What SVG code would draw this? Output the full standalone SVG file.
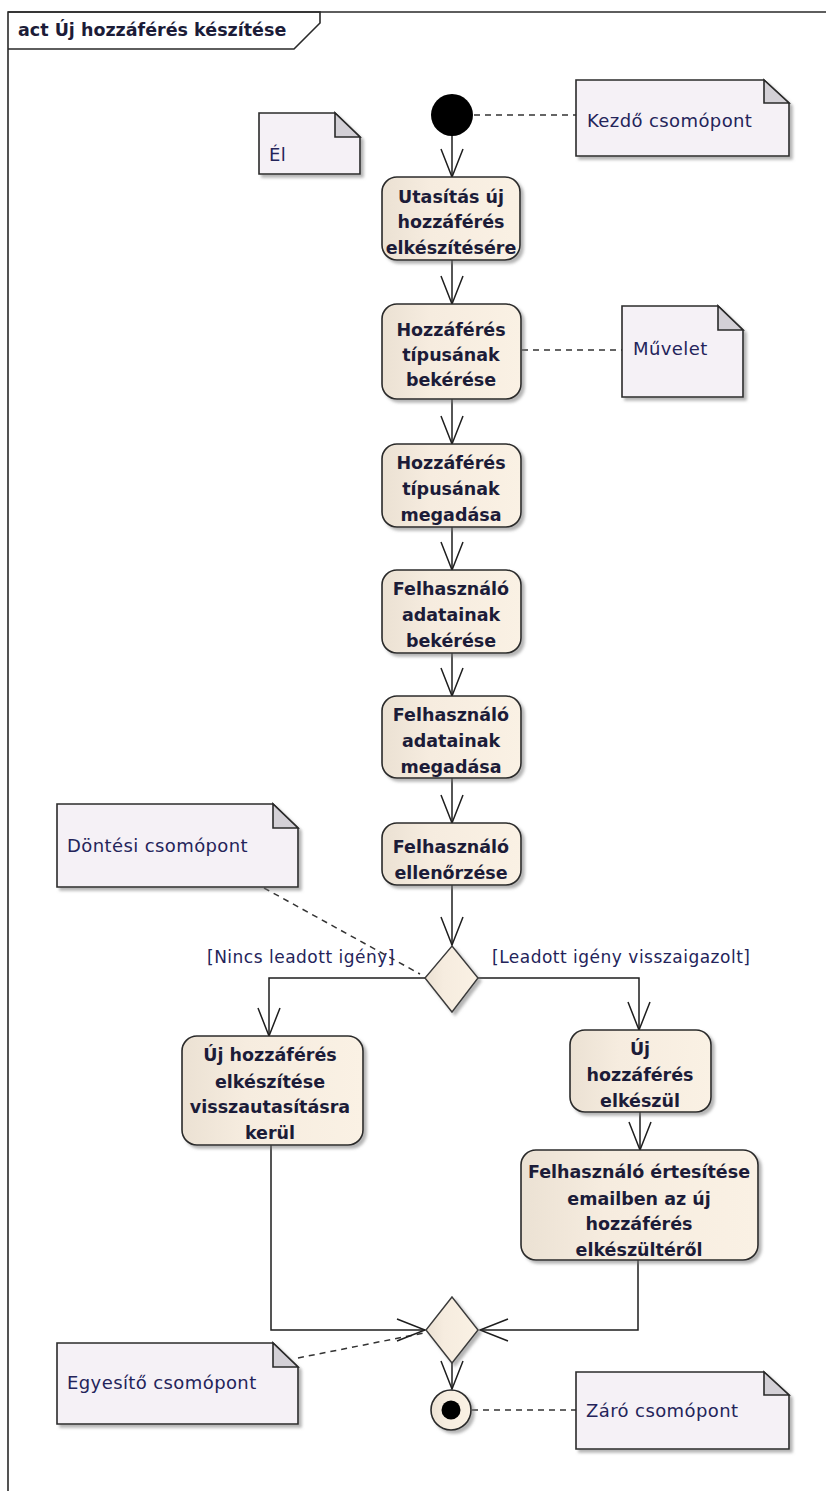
<svg xmlns="http://www.w3.org/2000/svg" width="826" height="1491" viewBox="0 0 826 1491">
<style>
.frame{fill:none;stroke:#2a2a2a;stroke-width:1.6}
.act{fill:url(#ng);stroke:#2a2a2a;stroke-width:1.6;filter:url(#sh)}
.dia{fill:url(#ng);stroke:#3a3a3a;stroke-width:1.4;filter:url(#sh)}
.note{fill:#f5f1f6;stroke:#2a2a2a;stroke-width:1.6;filter:url(#sh)}
.fold{fill:#d3d0d6;stroke:#2a2a2a;stroke-width:1.6}
.flow{fill:none;stroke:#1e1e1e;stroke-width:1.5;marker-end:url(#arr)}
.dash{fill:none;stroke:#333;stroke-width:1.5;stroke-dasharray:6 5}
.nt{font-family:"DejaVu Sans",Verdana,sans-serif;font-weight:bold;font-size:17.5px;fill:#1c1c38;text-anchor:middle}
.tt{font-family:"DejaVu Sans",Verdana,sans-serif;font-weight:bold;font-size:17.5px;fill:#1c1c38}
.lt{font-family:"DejaVu Sans",Verdana,sans-serif;font-size:18px;letter-spacing:0.4px;fill:#24245a}
.gt{font-family:"DejaVu Sans",Verdana,sans-serif;font-size:17px;letter-spacing:0.5px;fill:#24245a}
</style>
<defs>
<linearGradient id="ng" x1="0" y1="0" x2="1" y2="0">
<stop offset="0" stop-color="#ebe1d3"/>
<stop offset="0.35" stop-color="#f6ecdf"/>
<stop offset="1" stop-color="#faf1e4"/>
</linearGradient>
<filter id="sh" x="-10%" y="-10%" width="130%" height="130%">
<feDropShadow dx="3" dy="3" stdDeviation="1.5" flood-color="#777" flood-opacity="0.55"/>
</filter>
<marker id="arr" viewBox="-30 -13 32 26" refX="0" refY="0" markerWidth="32" markerHeight="26" markerUnits="userSpaceOnUse" orient="auto">
<path d="M-28,-11 L0,0 L-28,11" fill="none" stroke="#1e1e1e" stroke-width="1.5"/>
</marker>
</defs>
<rect width="826" height="1491" fill="#ffffff"/>
<g id="frame">
<path class="frame" d="M8,1491 V12 H826"/>
<path class="frame" d="M8,12 H320 V23 L294,49 H8"/>
<text class="tt" x="18" y="36">act Új hozzáférés készítése</text>
</g>
<g id="connectors">
<line class="dash" x1="474" y1="115" x2="576" y2="115"/>
<line class="dash" x1="522" y1="350" x2="622" y2="350"/>
<line class="dash" x1="264" y1="888" x2="420" y2="974"/>
<line class="dash" x1="298" y1="1358" x2="424" y2="1333"/>
<line class="dash" x1="472" y1="1410" x2="576" y2="1410"/>
<line class="flow" x1="452" y1="136" x2="452" y2="177"/>
<line class="flow" x1="452" y1="260" x2="452" y2="304"/>
<line class="flow" x1="452" y1="399" x2="452" y2="444"/>
<line class="flow" x1="452" y1="527" x2="452" y2="570"/>
<line class="flow" x1="452" y1="653" x2="452" y2="696"/>
<line class="flow" x1="452" y1="778" x2="452" y2="823"/>
<line class="flow" x1="452" y1="885" x2="452" y2="945"/>
<polyline class="flow" points="425,978 269,978 269,1036"/>
<polyline class="flow" points="478,978 639,978 639,1030"/>
<line class="flow" x1="640" y1="1112" x2="640" y2="1150"/>
<polyline class="flow" points="271,1145 271,1330 425,1330"/>
<polyline class="flow" points="638,1260 638,1330 480,1330"/>
<line class="flow" x1="452" y1="1363" x2="452" y2="1389"/>
<text class="gt" x="207" y="963">[Nincs leadott igény]</text>
<text class="gt" x="492" y="963">[Leadott igény visszaigazolt]</text>
</g>
<g id="initial">
<circle cx="452" cy="115" r="21" fill="#000"/>
</g>
<g id="note-kezdo">
<path class="note" d="M576,80 H764 L789,103 V156 H576 Z"/>
<path class="fold" d="M764,80 V103 H789 Z"/>
<text class="lt" x="587" y="127">Kezdő csomópont</text>
</g>
<g id="note-el">
<path class="note" d="M259,113 H335 L360,137 V174 H259 Z"/>
<path class="fold" d="M335,113 V137 H360 Z"/>
<text class="lt" x="269" y="161">Él</text>
</g>
<g id="n1">
<rect class="act" x="382" y="177" width="138" height="83" rx="15"/>
<text class="nt" x="451" y="203">Utasítás új</text>
<text class="nt" x="451" y="228">hozzáférés</text>
<text class="nt" x="451" y="254">elkészítésére</text>
</g>
<g id="n2">
<rect class="act" x="382" y="304" width="139" height="95" rx="15"/>
<text class="nt" x="451" y="336">Hozzáférés</text>
<text class="nt" x="451" y="361">típusának</text>
<text class="nt" x="451" y="386">bekérése</text>
</g>
<g id="note-muvelet">
<path class="note" d="M622,306 H718 L743,330 V397 H622 Z"/>
<path class="fold" d="M718,306 V330 H743 Z"/>
<text class="lt" x="633" y="355">Művelet</text>
</g>
<g id="n3">
<rect class="act" x="382" y="444" width="139" height="83" rx="15"/>
<text class="nt" x="451" y="469">Hozzáférés</text>
<text class="nt" x="451" y="495">típusának</text>
<text class="nt" x="451" y="521">megadása</text>
</g>
<g id="n4">
<rect class="act" x="382" y="570" width="139" height="83" rx="15"/>
<text class="nt" x="451" y="595">Felhasználó</text>
<text class="nt" x="451" y="621">adatainak</text>
<text class="nt" x="451" y="647">bekérése</text>
</g>
<g id="n5">
<rect class="act" x="382" y="696" width="139" height="82" rx="15"/>
<text class="nt" x="451" y="721">Felhasználó</text>
<text class="nt" x="451" y="747">adatainak</text>
<text class="nt" x="451" y="773">megadása</text>
</g>
<g id="n6">
<rect class="act" x="382" y="823" width="139" height="62" rx="15"/>
<text class="nt" x="451" y="853">Felhasználó</text>
<text class="nt" x="451" y="879">ellenőrzése</text>
</g>
<g id="note-dontesi">
<path class="note" d="M57,804 H273 L298,828 V887 H57 Z"/>
<path class="fold" d="M273,804 V828 H298 Z"/>
<text class="lt" x="67" y="852">Döntési csomópont</text>
</g>
<g id="decision">
<path class="dia" d="M452,946 L478,978 L452,1012 L425,978 Z"/>
</g>
<g id="n-reject">
<rect class="act" x="182" y="1036" width="181" height="109" rx="15"/>
<text class="nt" x="270" y="1061">Új hozzáférés</text>
<text class="nt" x="270" y="1088">elkészítése</text>
<text class="nt" x="270" y="1113">visszautasításra</text>
<text class="nt" x="270" y="1139">kerül</text>
</g>
<g id="n-ready">
<rect class="act" x="570" y="1030" width="141" height="82" rx="15"/>
<text class="nt" x="640" y="1055">Új</text>
<text class="nt" x="640" y="1081">hozzáférés</text>
<text class="nt" x="640" y="1107">elkészül</text>
</g>
<g id="n-notify">
<rect class="act" x="521" y="1150" width="237" height="110" rx="15"/>
<text class="nt" x="639" y="1178">Felhasználó értesítése</text>
<text class="nt" x="639" y="1205">emailben az új</text>
<text class="nt" x="639" y="1230">hozzáférés</text>
<text class="nt" x="639" y="1256">elkészültéről</text>
</g>
<g id="merge">
<path class="dia" d="M452,1297 L478,1330 L452,1363 L426,1330 Z"/>
</g>
<g id="note-egyesito">
<path class="note" d="M57,1343 H273 L298,1367 V1424 H57 Z"/>
<path class="fold" d="M273,1343 V1367 H298 Z"/>
<text class="lt" x="67" y="1389">Egyesítő csomópont</text>
</g>
<g id="final">
<circle cx="451" cy="1410" r="20" fill="url(#ng)" stroke="#2a2a2a" stroke-width="1.6" filter="url(#sh)"/>
<circle cx="451" cy="1410" r="9.5" fill="#000"/>
</g>
<g id="note-zaro">
<path class="note" d="M576,1372 H764 L789,1395 V1449 H576 Z"/>
<path class="fold" d="M764,1372 V1395 H789 Z"/>
<text class="lt" x="586" y="1417">Záró csomópont</text>
</g>
</svg>
